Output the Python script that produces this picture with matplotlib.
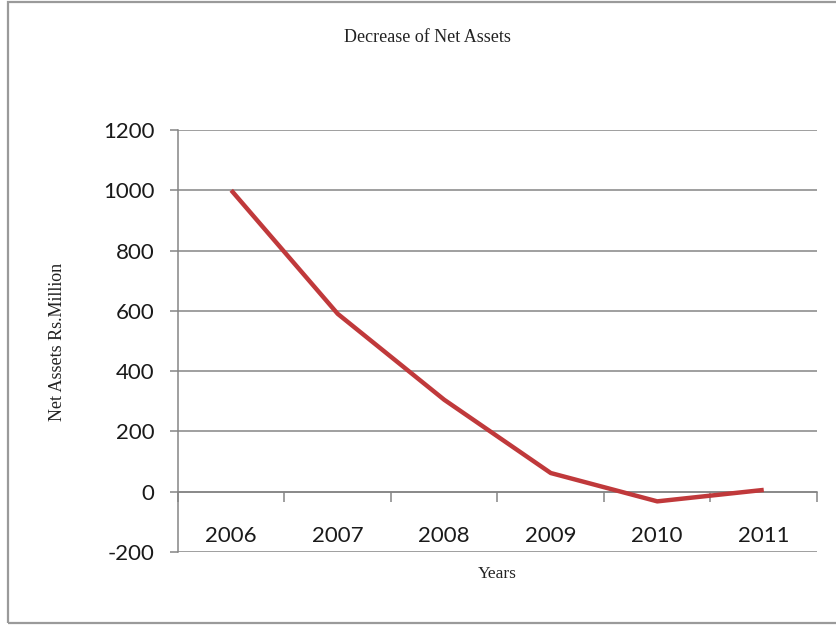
import matplotlib
matplotlib.use("Agg")
import matplotlib.pyplot as plt
from matplotlib.patches import Rectangle

# Net assets by year (Rs. Million)
years = ["2006", "2007", "2008", "2009", "2010", "2011"]
net_assets = [1000, 590, 305, 62, -32, 6]
y_ticks = [-200, 0, 200, 400, 600, 800, 1000, 1200]

title = "Decrease of Net Assets"
x_label = "Years"
y_label = "Net Assets Rs.Million"

line_color = "#C0393B"
grid_color = "#858585"
serif = ["Liberation Serif", "DejaVu Serif"]
sans = ["Lato", "DejaVu Sans"]

fig = plt.figure(figsize=(8.37, 6.25), dpi=100)
fig.patch.set_facecolor("white")

# thin outer frame
fig.patches.append(Rectangle((8 / 837, 2 / 625), 1.2, 1 - 4 / 625,
                             transform=fig.transFigure, fill=False,
                             edgecolor="#9a9a9a", linewidth=1.6, zorder=0))

ax = fig.add_axes([178 / 837, 1 - 552 / 625, (817 - 178) / 837, (552 - 130) / 625])

x = list(range(len(years)))
ax.plot(x, net_assets, color=line_color, linewidth=3.2, solid_capstyle="butt",
        solid_joinstyle="round", zorder=3)

ax.set_xlim(-0.5, len(years) - 0.5)
ax.set_ylim(min(y_ticks), max(y_ticks))
ax.set_yticks(y_ticks)
ax.set_yticklabels([str(v) for v in y_ticks], fontfamily=sans, fontsize=16, color="#1a1a1a")
ax.yaxis.grid(True, color=grid_color, linewidth=1.1)
ax.set_axisbelow(True)
ax.tick_params(axis="y", length=6, width=1.1, color=grid_color, pad=11)

# category axis crossing at zero, tick marks between categories
ax.spines["top"].set_visible(False)
ax.spines["right"].set_visible(False)
ax.spines["left"].set_color(grid_color)
ax.spines["left"].set_linewidth(1.1)
ax.spines["bottom"].set_position(("data", 0))
ax.spines["bottom"].set_color(grid_color)
ax.spines["bottom"].set_linewidth(1.1)
ax.set_xticks([i - 0.5 for i in range(len(years) + 1)])
ax.set_xticklabels([])
ax.tick_params(axis="x", length=7, width=1.1, color=grid_color, direction="out")

# category labels placed low, near the bottom of the plot
for i, yr in enumerate(years):
    ax.text(i, -148, yr, ha="center", va="center", fontfamily=sans,
            fontsize=16, color="#1a1a1a")

fig.text(427 / 837, 1 - 38 / 625, title, ha="center", va="center",
         fontfamily=serif, fontsize=13, color="#222222")
fig.text(497 / 837, 1 - 574 / 625, x_label, ha="center", va="center",
         fontfamily=serif, fontsize=12.5, color="#222222")
fig.text(58 / 837, 1 - 342 / 625, y_label, ha="center", va="center",
         rotation=90, fontfamily=serif, fontsize=13, color="#222222")

fig.savefig("out.png", dpi=100, facecolor="white")
